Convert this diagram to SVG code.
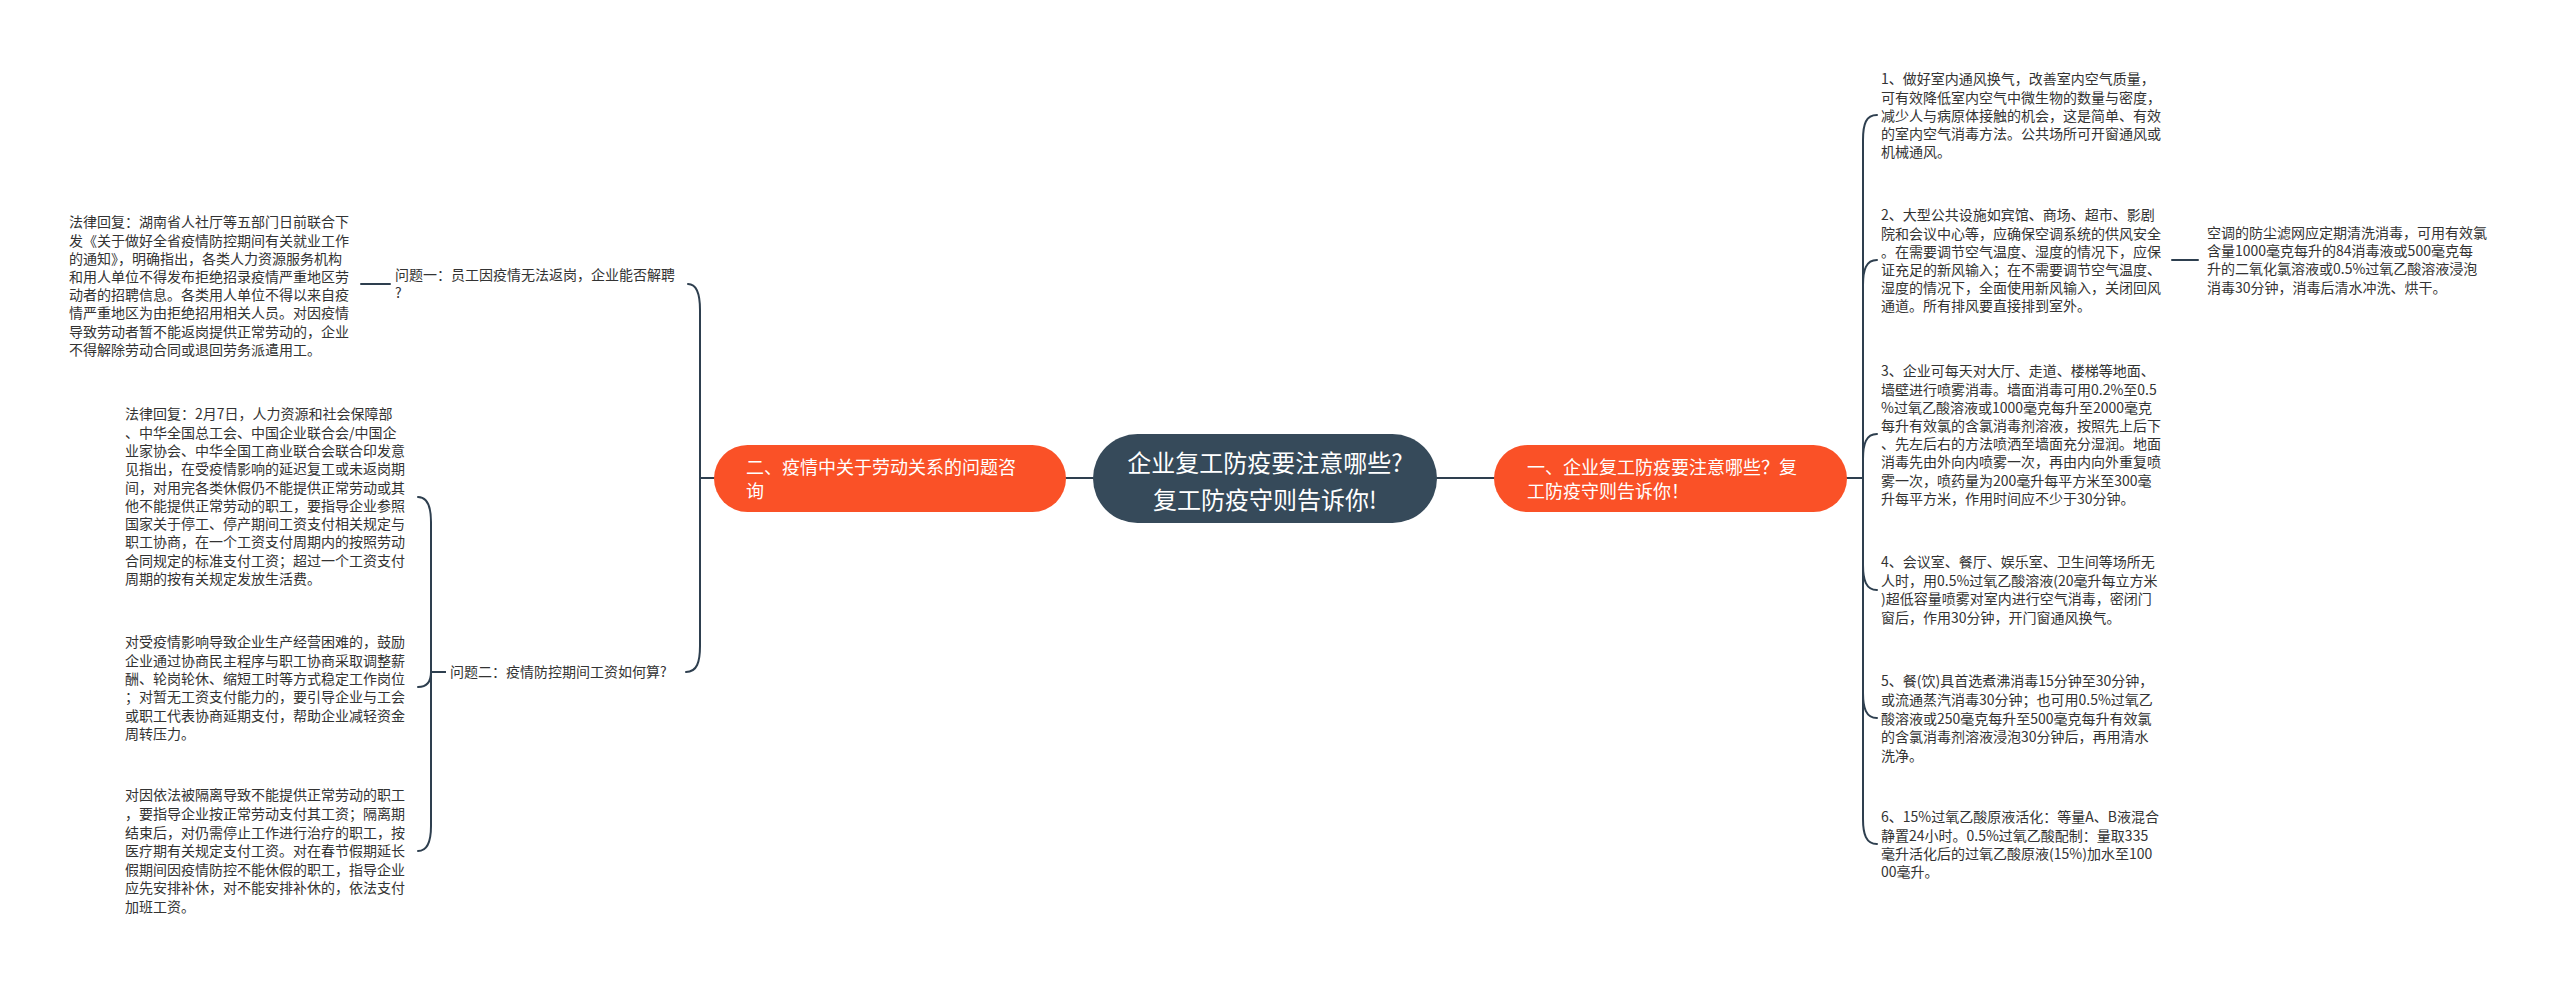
<svg xmlns="http://www.w3.org/2000/svg" width="2560" height="983" viewBox="0 0 2560 983">
<style>
.t{font-family:'Noto Sans CJK SC','Liberation Sans',sans-serif;font-size:14px;fill:#333333}
.b{font-family:'Noto Sans CJK SC','Liberation Sans',sans-serif;font-size:18px;fill:#ffffff}
.c{font-family:'Noto Sans CJK SC','Liberation Sans',sans-serif;font-size:24px;fill:#ffffff}
.ln{fill:none;stroke:#2e3f4f;stroke-width:2;stroke-linecap:round}
</style>
<rect width="2560" height="983" fill="#ffffff"/>
<g id="connectors" class="ln">
<path d="M1093 478 H1066"/>
<path d="M1437 478 H1494"/>
<path d="M714 478 H700 V310 C700 294 697 284 688 284"/>
<path d="M714 478 H700 V646 C700 662 697 672 686 672"/>
<path d="M390 284 H361"/>
<path d="M445 672 H431 V522 C431 507 428 497 418 497"/>
<path d="M445 672 H431 C431 680 428 687 418 687"/>
<path d="M445 672 H431 V826 C431 841 428 851 418 851"/>
<path d="M1847 478 H1863 V140 C1863 124 1866 115 1877 115"/>
<path d="M1847 478 H1863 V285 C1863 270 1866 260 1877 260"/>
<path d="M1847 478 H1863 V459 C1863 444 1866 434 1877 434"/>
<path d="M1847 478 H1863 V565 C1863 580 1866 590 1877 590"/>
<path d="M1847 478 H1863 V693 C1863 708 1866 718 1877 718"/>
<path d="M1847 478 H1863 V819 C1863 834 1866 844 1877 844"/>
<path d="M2172 260 H2198"/>
</g>
<g id="center">
<rect x="1093" y="434" width="344" height="89" rx="44.5" fill="#364a5a"/>
<text class="c" x="1265" y="472" text-anchor="middle">企业复工防疫要注意哪些?</text>
<text class="c" x="1265" y="509" text-anchor="middle">复工防疫守则告诉你!</text>
</g>
<g id="branch-left">
<rect x="714" y="445" width="352" height="67" rx="33.5" fill="#fa5127"/>
<text class="b" x="746" y="474">二、疫情中关于劳动关系的问题咨</text>
<text class="b" x="746" y="498">询</text>
</g>
<g id="branch-right">
<rect x="1494" y="445" width="353" height="67" rx="33.5" fill="#fa5127"/>
<text class="b" x="1527" y="474">一、企业复工防疫要注意哪些？复</text>
<text class="b" x="1527" y="498">工防疫守则告诉你！</text>
</g>
<g id="q1">
<text class="t" x="395" y="280">问题一：员工因疫情无法返岗，企业能否解聘</text>
<text class="t" x="395" y="298">?</text>
</g>
<g id="q2">
<text class="t" x="450" y="677">问题二：疫情防控期间工资如何算?</text>
</g>
<g id="l1">
<text class="t" x="69" y="227.3">法律回复：湖南省人社厅等五部门日前联合下</text>
<text class="t" x="69" y="245.5">发《关于做好全省疫情防控期间有关就业工作</text>
<text class="t" x="69" y="263.7">的通知》，明确指出，各类人力资源服务机构</text>
<text class="t" x="69" y="281.9">和用人单位不得发布拒绝招录疫情严重地区劳</text>
<text class="t" x="69" y="300.1">动者的招聘信息。各类用人单位不得以来自疫</text>
<text class="t" x="69" y="318.3">情严重地区为由拒绝招用相关人员。对因疫情</text>
<text class="t" x="69" y="336.5">导致劳动者暂不能返岗提供正常劳动的，企业</text>
<text class="t" x="69" y="354.7">不得解除劳动合同或退回劳务派遣用工。</text>
</g>
<g id="l2">
<text class="t" x="125" y="419.3">法律回复：2月7日，人力资源和社会保障部</text>
<text class="t" x="125" y="437.6">、中华全国总工会、中国企业联合会/中国企</text>
<text class="t" x="125" y="455.9">业家协会、中华全国工商业联合会联合印发意</text>
<text class="t" x="125" y="474.2">见指出，在受疫情影响的延迟复工或未返岗期</text>
<text class="t" x="125" y="492.5">间，对用完各类休假仍不能提供正常劳动或其</text>
<text class="t" x="125" y="510.8">他不能提供正常劳动的职工，要指导企业参照</text>
<text class="t" x="125" y="529.1">国家关于停工、停产期间工资支付相关规定与</text>
<text class="t" x="125" y="547.4">职工协商，在一个工资支付周期内的按照劳动</text>
<text class="t" x="125" y="565.7">合同规定的标准支付工资；超过一个工资支付</text>
<text class="t" x="125" y="584">周期的按有关规定发放生活费。</text>
</g>
<g id="l3">
<text class="t" x="125" y="647.3">对受疫情影响导致企业生产经营困难的，鼓励</text>
<text class="t" x="125" y="665.6">企业通过协商民主程序与职工协商采取调整薪</text>
<text class="t" x="125" y="683.9">酬、轮岗轮休、缩短工时等方式稳定工作岗位</text>
<text class="t" x="125" y="702.2">；对暂无工资支付能力的，要引导企业与工会</text>
<text class="t" x="125" y="720.5">或职工代表协商延期支付，帮助企业减轻资金</text>
<text class="t" x="125" y="738.8">周转压力。</text>
</g>
<g id="l4">
<text class="t" x="125" y="800.3">对因依法被隔离导致不能提供正常劳动的职工</text>
<text class="t" x="125" y="818.9">，要指导企业按正常劳动支付其工资；隔离期</text>
<text class="t" x="125" y="837.5">结束后，对仍需停止工作进行治疗的职工，按</text>
<text class="t" x="125" y="856.1">医疗期有关规定支付工资。对在春节假期延长</text>
<text class="t" x="125" y="874.7">假期间因疫情防控不能休假的职工，指导企业</text>
<text class="t" x="125" y="893.3">应先安排补休，对不能安排补休的，依法支付</text>
<text class="t" x="125" y="911.9">加班工资。</text>
</g>
<g id="r1">
<text class="t" x="1881" y="84.3">1、做好室内通风换气，改善室内空气质量，</text>
<text class="t" x="1881" y="102.5">可有效降低室内空气中微生物的数量与密度，</text>
<text class="t" x="1881" y="120.7">减少人与病原体接触的机会，这是简单、有效</text>
<text class="t" x="1881" y="138.9">的室内空气消毒方法。公共场所可开窗通风或</text>
<text class="t" x="1881" y="157.1">机械通风。</text>
</g>
<g id="r2">
<text class="t" x="1881" y="220.3">2、大型公共设施如宾馆、商场、超市、影剧</text>
<text class="t" x="1881" y="238.5">院和会议中心等，应确保空调系统的供风安全</text>
<text class="t" x="1881" y="256.7">。在需要调节空气温度、湿度的情况下，应保</text>
<text class="t" x="1881" y="274.9">证充足的新风输入；在不需要调节空气温度、</text>
<text class="t" x="1881" y="293.1">湿度的情况下，全面使用新风输入，关闭回风</text>
<text class="t" x="1881" y="311.3">通道。所有排风要直接排到室外。</text>
</g>
<g id="r2a">
<text class="t" x="2207" y="237.8">空调的防尘滤网应定期清洗消毒，可用有效氯</text>
<text class="t" x="2207" y="256.1">含量1000毫克每升的84消毒液或500毫克每</text>
<text class="t" x="2207" y="274.4">升的二氧化氯溶液或0.5%过氧乙酸溶液浸泡</text>
<text class="t" x="2207" y="292.7">消毒30分钟，消毒后清水冲洗、烘干。</text>
</g>
<g id="r3">
<text class="t" x="1881" y="376.3">3、企业可每天对大厅、走道、楼梯等地面、</text>
<text class="t" x="1881" y="394.5">墙壁进行喷雾消毒。墙面消毒可用0.2%至0.5</text>
<text class="t" x="1881" y="412.7">%过氧乙酸溶液或1000毫克每升至2000毫克</text>
<text class="t" x="1881" y="430.9">每升有效氯的含氯消毒剂溶液，按照先上后下</text>
<text class="t" x="1881" y="449.1">、先左后右的方法喷洒至墙面充分湿润。地面</text>
<text class="t" x="1881" y="467.3">消毒先由外向内喷雾一次，再由内向外重复喷</text>
<text class="t" x="1881" y="485.5">雾一次，喷药量为200毫升每平方米至300毫</text>
<text class="t" x="1881" y="503.7">升每平方米，作用时间应不少于30分钟。</text>
</g>
<g id="r4">
<text class="t" x="1881" y="567.3">4、会议室、餐厅、娱乐室、卫生间等场所无</text>
<text class="t" x="1881" y="585.8">人时，用0.5%过氧乙酸溶液(20毫升每立方米</text>
<text class="t" x="1881" y="604.3">)超低容量喷雾对室内进行空气消毒，密闭门</text>
<text class="t" x="1881" y="622.8">窗后，作用30分钟，开门窗通风换气。</text>
</g>
<g id="r5">
<text class="t" x="1881" y="686.3">5、餐(饮)具首选煮沸消毒15分钟至30分钟，</text>
<text class="t" x="1881" y="704.9">或流通蒸汽消毒30分钟；也可用0.5%过氧乙</text>
<text class="t" x="1881" y="723.5">酸溶液或250毫克每升至500毫克每升有效氯</text>
<text class="t" x="1881" y="742.1">的含氯消毒剂溶液浸泡30分钟后，再用清水</text>
<text class="t" x="1881" y="760.7">洗净。</text>
</g>
<g id="r6">
<text class="t" x="1881" y="822.3">6、15%过氧乙酸原液活化：等量A、B液混合</text>
<text class="t" x="1881" y="840.5">静置24小时。0.5%过氧乙酸配制：量取335</text>
<text class="t" x="1881" y="858.7">毫升活化后的过氧乙酸原液(15%)加水至100</text>
<text class="t" x="1881" y="876.9">00毫升。</text>
</g>
</svg>
